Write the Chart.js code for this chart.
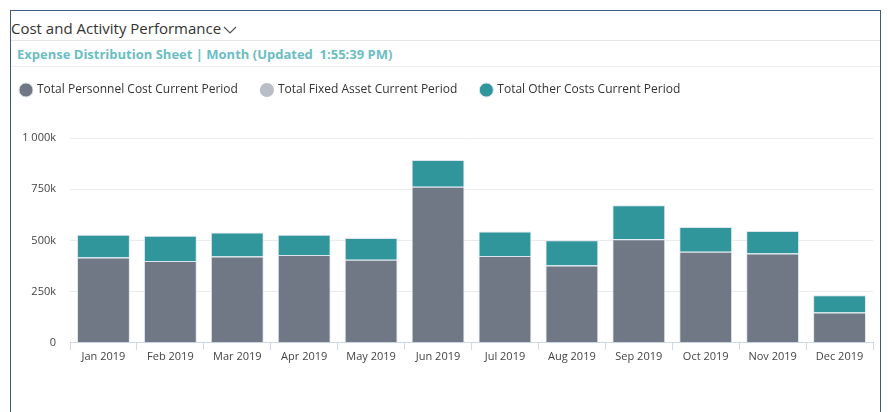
<!DOCTYPE html>
<html>
<head>
<meta charset="utf-8">
<script src="https://cdn.jsdelivr.net/npm/chart.js@4/dist/chart.umd.min.js"></script>
<style>
  body { margin: 0; background: #fff; font-family: "Open Sans", sans-serif; overflow: hidden; }
  .frame { position: absolute; left: 10px; top: 10px; width: 869px; height: 410px;
    border-left: 1px solid #3f5c7a; border-top: 1px solid #3f5c7a; border-right: 1px solid #3f5c7a; }
  .title { position: absolute; left: 0; top: 7px; font-size: 15px; color: #333; white-space: nowrap; }
  .title svg { vertical-align: middle; margin-left: 2px; }
  .rule1 { position: absolute; left: 0; right: 0; top: 29px; border-top: 1px solid #e6e6e6; }
  .sub { position: absolute; left: 6px; top: 34px; font-size: 13px; font-weight: bold; color: #6bbdc4; white-space: nowrap; }
  .rule2 { position: absolute; left: 0; right: 0; top: 55px; border-top: 1px solid #eeeeee; }
  .wrap { position: absolute; left: -14px; top: 49px; width: 883px; height: 352px; }
</style>
</head>
<body>
<div class="frame">
  <div class="title">Cost and Activity Performance<svg width="14" height="10" viewBox="0 0 14 10"><path d="M1 2 L7 8 L13 2" fill="none" stroke="#555" stroke-width="1.2"/></svg></div>
  <div class="rule1"></div>
  <div class="sub">Expense Distribution Sheet | Month (Updated&nbsp; 1:55:39 PM)</div>
  <div class="rule2"></div>
  <div class="wrap"><canvas id="costChart"></canvas></div>
</div>
<script>
const months = ["Jan 2019", "Feb 2019", "Mar 2019", "Apr 2019", "May 2019", "Jun 2019",
  "Jul 2019", "Aug 2019", "Sep 2019", "Oct 2019", "Nov 2019", "Dec 2019"];
const personnelCost = [416000, 400000, 421000, 429000, 405000, 762000, 424000, 377000, 506000, 444000, 436000, 148000];
const fixedAssetCost = [0, 0, 0, 0, 0, 0, 0, 0, 0, 0, 0, 0];
const otherCosts = [112000, 123000, 117000, 98000, 107000, 131000, 119000, 124000, 166000, 122000, 110000, 84000];
const yTicks = [0, 250000, 500000, 750000, 1000000];

function fmtK(v) {
  if (v === 0) return "0";
  const k = Math.round(v / 1000);
  return k.toString().replace(/\B(?=(\d{3})+(?!\d))/g, " ") + "k";
}

// push the plot down below the legend
const legendGap = {
  id: "legendGap",
  beforeInit(chart) {
    const origFit = chart.legend.fit;
    chart.legend.fit = function fit() {
      origFit.bind(chart.legend)();
      this.height += 32;
    };
  },
};

const ctx = document.getElementById("costChart").getContext("2d");
new Chart(ctx, {
  type: "bar",
  data: {
    labels: months,
    datasets: [
      {
        label: "Total Personnel Cost Current Period",
        data: personnelCost,
        backgroundColor: "#6f7884",
        borderColor: "#dde6ef",
        borderWidth: 1,
        barPercentage: 0.79,
        categoryPercentage: 1,
      },
      {
        label: "Total Fixed Asset Current Period",
        data: fixedAssetCost,
        backgroundColor: "#b9bdc6",
        borderWidth: 0,
        barPercentage: 0.79,
        categoryPercentage: 1,
      },
      {
        label: "Total Other Costs Current Period",
        data: otherCosts,
        backgroundColor: "#31969c",
        borderColor: "#dde6ef",
        borderWidth: 1,
        barPercentage: 0.79,
        categoryPercentage: 1,
      },
    ],
  },
  plugins: [legendGap],
  options: {
    responsive: true,
    maintainAspectRatio: false,
    animation: false,
    layout: { padding: { left: 0, right: 7, top: 0, bottom: 49 } },
    plugins: {
      legend: {
        position: "top",
        align: "start",
        labels: {
          usePointStyle: true,
          pointStyle: "circle",
          boxWidth: 10,
          boxHeight: 10,
          padding: 24,
          color: "#333",
          font: { family: "Open Sans", size: 12 },
        },
      },
      tooltip: { enabled: false },
    },
    scales: {
      x: {
        stacked: true,
        grid: {
          display: true,
          offset: true,
          drawOnChartArea: false,
          drawTicks: true,
          tickLength: 7,
          color: "#cdd8e8",
        },
        border: { display: true, color: "#cdd8e8" },
        ticks: { color: "#444", font: { family: "Open Sans", size: 11 }, padding: 0, maxRotation: 0 },
      },
      y: {
        stacked: true,
        min: 0,
        max: 1000000,
        afterBuildTicks: (axis) => { axis.ticks = yTicks.map((v) => ({ value: v })); },
        afterFit: (axis) => { axis.width = 73; },
        grid: { color: "#ebebee", drawTicks: false },
        border: { display: false },
        ticks: {
          color: "#444",
          font: { family: "Open Sans", size: 11 },
          padding: 14,
          callback: (v) => fmtK(v),
        },
      },
    },
  },
});
</script>
</body>
</html>
